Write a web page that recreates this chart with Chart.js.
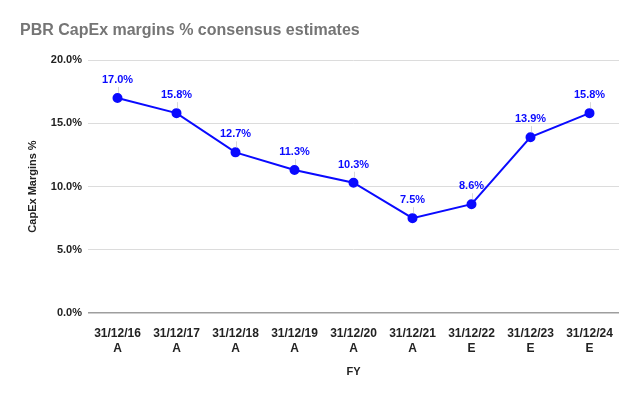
<!DOCTYPE html>
<html><head><meta charset="utf-8">
<script src="https://cdn.jsdelivr.net/npm/chart.js@4"></script>
<style>html,body{margin:0;padding:0;background:#fff}#w{width:640px;height:397px;position:relative}</style>
</head><body><div id="w"><canvas id="c"></canvas></div>
<script>
const categories = [["31/12/16","A"],["31/12/17","A"],["31/12/18","A"],["31/12/19","A"],["31/12/20","A"],["31/12/21","A"],["31/12/22","E"],["31/12/23","E"],["31/12/24","E"]];
const capexMargins = [17.0, 15.8, 12.7, 11.3, 10.3, 7.5, 8.6, 13.9, 15.8];
const yTicks = [0, 5, 10, 15, 20];
const titleText = "PBR CapEx margins % consensus estimates";
const FONT = "'Liberation Sans', Arial, sans-serif";
const BLUE = '#0a0aff';

const labelPlugin = {
  id: 'labels',
  afterDatasetsDraw(chart) {
    const ctx = chart.ctx;
    const meta = chart.getDatasetMeta(0);
    ctx.save();
    meta.data.forEach((pt, i) => {
      ctx.strokeStyle = '#d8d8d8';
      ctx.lineWidth = 1;
      ctx.beginPath();
      ctx.moveTo(Math.round(pt.x) + 0.5, pt.y - 11);
      ctx.lineTo(Math.round(pt.x) + 0.5, pt.y - 5);
      ctx.stroke();
    });
    ctx.font = "bold 11px " + FONT;
    ctx.fillStyle = BLUE;
    ctx.textAlign = 'center';
    ctx.textBaseline = 'middle';
    meta.data.forEach((pt, i) => {
      ctx.fillText(capexMargins[i].toFixed(1) + '%', pt.x, pt.y - 18);
    });
    ctx.restore();
  },
  beforeDraw(chart) {
    const ctx = chart.ctx;
    ctx.save();
    ctx.fillStyle = '#fff';
    ctx.fillRect(0, 0, chart.width, chart.height);
    ctx.font = "bold 16px " + FONT;
    ctx.fillStyle = '#757575';
    ctx.textAlign = 'left';
    ctx.textBaseline = 'alphabetic';
    ctx.fillText(titleText, 20, 35);
    ctx.restore();
  }
};

new Chart(document.getElementById('c'), {
  type: 'line',
  data: {
    labels: categories,
    datasets: [{
      data: capexMargins,
      borderColor: BLUE,
      backgroundColor: BLUE,
      borderWidth: 2,
      pointRadius: 4,
      pointHoverRadius: 4,
      tension: 0
    }]
  },
  options: {
    responsive: true,
    maintainAspectRatio: false,
    animation: false,
    layout: { padding: { top: 60, right: 21, bottom: 14, left: 22 } },
    plugins: { legend: { display: false }, tooltip: { enabled: false } },
    scales: {
      x: {
        offset: true,
        grid: { display: false, offset: true },
        border: { display: false },
        ticks: { color: '#222', font: { family: FONT, size: 12, weight: 'bold', lineHeight: 1.25 }, maxRotation: 0, autoSkip: false, padding: 5 },
        title: { display: true, text: 'FY', color: '#222', font: { family: FONT, size: 11, weight: 'bold' }, padding: { top: 12 } },
        afterFit(s) { s.height = 70; }
      },
      y: {
        min: 0, max: 20,
        afterBuildTicks(s) { s.ticks = yTicks.map(v => ({ value: v })); },
        grid: {
          color: c => (c.tick && c.tick.value === 0) ? '#9e9e9e' : '#dcdcdc',
          lineWidth: c => (c.tick && c.tick.value === 0) ? 1.5 : 1,
          drawTicks: false
        },
        border: { display: false },
        ticks: { color: '#222', font: { family: FONT, size: 11, weight: 'bold' }, padding: 6, callback: v => v.toFixed(1) + '%' },
        title: { display: true, text: 'CapEx Margins %', color: '#222', font: { family: FONT, size: 11, weight: 'bold' } },
        afterFit(s) { s.width = 66; }
      }
    }
  },
  plugins: [labelPlugin]
});
</script></body></html>
